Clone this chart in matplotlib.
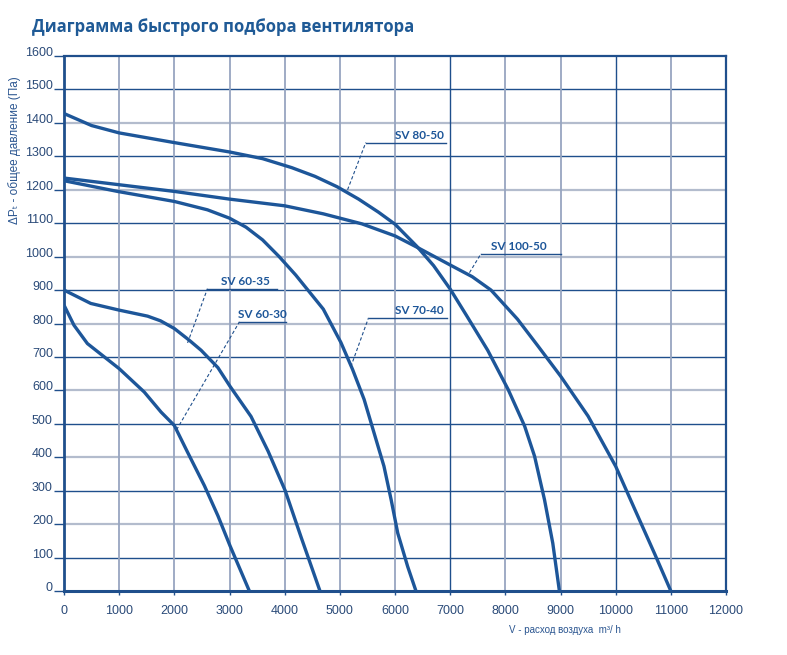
import matplotlib
matplotlib.use("Agg")
import matplotlib.pyplot as plt

# расход воздуха (m3/h) и давление (Па) для каждого вентилятора
sv80_50_x = [0, 500, 1000, 2000, 3000, 3600, 4130, 4550, 4950, 5340, 5700, 6000, 6400,
             6700, 7000, 7300, 7680, 8050, 8350, 8530, 8710, 8860, 8980]
sv80_50_y = [1428, 1392, 1370, 1341, 1313, 1293, 1266, 1240, 1209, 1172, 1133, 1097, 1030,
             973, 903, 823, 720, 603, 493, 403, 273, 143, 0]

sv100_50_x = [0, 1000, 2000, 3000, 4000, 4700, 5400, 6000, 6400, 7000, 7400, 7740, 8220,
              8590, 9000, 9500, 10000, 10350, 10710, 11000]
sv100_50_y = [1235, 1215, 1195, 1172, 1152, 1128, 1098, 1062, 1028, 975, 940, 900, 813,
              733, 643, 523, 373, 243, 110, 0]

sv70_40_x = [0, 970, 2000, 2600, 3000, 3300, 3600, 3900, 4200, 4700, 5020, 5230, 5440,
             5620, 5800, 5930, 6050, 6230, 6380]
sv70_40_y = [1227, 1195, 1165, 1140, 1115, 1088, 1050, 1000, 945, 843, 743, 663, 573,
             473, 373, 273, 173, 73, 0]

sv60_35_x = [0, 485, 1000, 1515, 1750, 2000, 2270, 2485, 2790, 3010, 3390, 3700, 4010,
             4300, 4640]
sv60_35_y = [900, 860, 840, 822, 808, 785, 750, 720, 668, 612, 522, 418, 300, 160, 0]

sv60_30_x = [0, 180, 424, 1000, 1455, 1760, 2000, 2240, 2545, 2790, 3010, 3360]
sv60_30_y = [855, 795, 740, 665, 595, 535, 495, 415, 315, 225, 135, 0]

# подписи: текст, центр текста по x, точка на кривой, полочка (x0, x1, y)
labels = ["SV 80-50", "SV 100-50", "SV 70-40", "SV 60-35", "SV 60-30"]
label_text_x = [6440, 8250, 6440, 3285, 3590]
label_tips = [(5140, 1200), (7350, 952), (5200, 671), (2240, 742), (2040, 482)]
label_shelves = [(5470, 6930, 1341), (7560, 9010, 1009), (5520, 6950, 817),
                 (2600, 3860, 904), (3180, 4025, 805)]

x_ticks = list(range(0, 12001, 1000))
y_ticks = list(range(0, 1601, 100))

blue = "#1d5699"
navy = "#1f4f8c"
grey_grid = "#b3bccd"

fig = plt.figure(figsize=(7.87, 6.55), dpi=100)
ax = fig.add_axes([64 / 787, 64 / 655, 662 / 787, 535 / 655])
ax.set_xlim(0, 12000)
ax.set_ylim(0, 1600)

# сетка: нечетные сотни - тёмные, четные - серые
for v in y_ticks[1:-1]:
    if (v // 100) % 2 == 1:
        ax.axhline(v, color=navy, lw=1.0, zorder=1)
    else:
        ax.axhline(v, color=grey_grid, lw=1.6, zorder=1)
for v in x_ticks[1:-1]:
    if v in (7000, 10000):
        ax.axvline(v, color=navy, lw=1.0, zorder=1)
    else:
        ax.axvline(v, color="#97a5c0", lw=1.3, zorder=1)

for s in ax.spines.values():
    s.set_color(navy)
    s.set_linewidth(1.6)
ax.spines["bottom"].set_linewidth(2.2)
ax.spines["left"].set_linewidth(2.0)

curves = [(sv80_50_x, sv80_50_y), (sv100_50_x, sv100_50_y), (sv70_40_x, sv70_40_y),
          (sv60_35_x, sv60_35_y), (sv60_30_x, sv60_30_y)]
for cx, cy in curves:
    ax.plot(cx, cy, color=blue, lw=2.4, solid_capstyle="butt", solid_joinstyle="round",
            zorder=3)

for txt, tx, tip, shelf in zip(labels, label_text_x, label_tips, label_shelves):
    x0, x1, yy = shelf
    ax.plot([x0, x1], [yy, yy], color=navy, lw=1.0, zorder=4)
    ax.plot([tip[0], x0], [tip[1], yy], color=navy, lw=0.8, ls=(0, (3, 2)), zorder=4)
    ax.text(tx, yy + 6, txt, ha="center", va="bottom",
            fontsize=8.5, fontweight="bold", color=blue, family=["Lato", "DejaVu Sans"],
            zorder=5)

ax.set_xticks(x_ticks)
ax.set_yticks(y_ticks)
ax.tick_params(axis="y", length=7, width=1.0, color=navy, pad=1,
               labelsize=9, labelcolor="#2a4a78")
ax.tick_params(axis="x", length=3, width=1.0, color=navy, pad=7,
               labelsize=9, labelcolor="#2a4a78")
for lab in ax.get_yticklabels():
    lab.set_family(["Liberation Sans", "DejaVu Sans"])
    lab.set_verticalalignment("baseline")
for lab in ax.get_xticklabels():
    lab.set_family(["Liberation Sans", "DejaVu Sans"])

fig.text(32 / 787, 1 - 27 / 655, "Диаграмма быстрого подбора вентилятора",
         ha="left", va="center", fontsize=12, fontweight="bold", color="#1f5a96",
         family=["Open Sans", "DejaVu Sans"])
fig.text(15 / 787, 1 - 150 / 655, "ΔPₜ - общее давление (Па)", rotation=90,
         ha="center", va="center", fontsize=8.5, color="#2a5590",
         family=["Liberation Sans", "DejaVu Sans"])
fig.text(565 / 787, 1 - 630 / 655, "V - расход воздуха  m³/ h",
         ha="center", va="center", fontsize=7, color="#2a5590",
         family=["Liberation Sans", "DejaVu Sans"])

fig.savefig("out.png", dpi=100)
